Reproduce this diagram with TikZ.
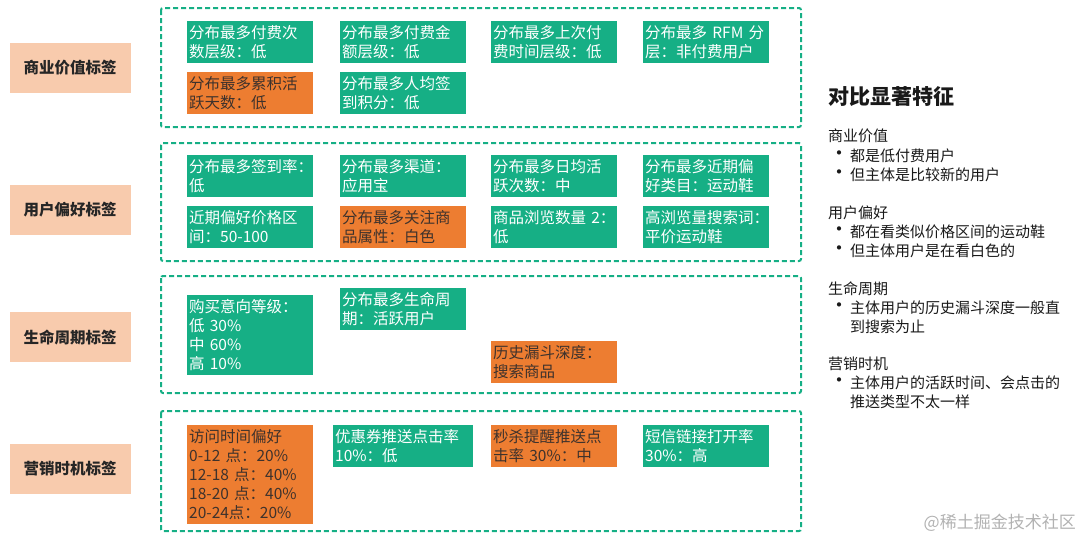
\documentclass[tikz,border=0pt]{standalone}
\usepackage{fontspec}
\setmainfont{Noto Sans CJK SC}
\usetikzlibrary{positioning}
\definecolor{tagpeach}{RGB}{248,203,173}
\definecolor{tealgrn}{RGB}{22,175,133}
\definecolor{deeporg}{RGB}{237,125,49}
\definecolor{orgtext}{RGB}{62,50,44}

\begin{document}
\begin{tikzpicture}[
    x=1pt, y=-1pt,
    every node/.style={inner sep=0pt},
    tagbox/.style={fill=tagpeach, minimum width=121pt, minimum height=50pt, font=\fontsize{15.5}{19}\selectfont\bfseries, text=black!85},
    grnbox/.style={anchor=north west, fill=tealgrn, text=white, text width=122pt, inner xsep=2pt, inner ysep=4.25pt, align=left, font=\fontsize{15.5}{19}\selectfont},
    orgbox/.style={grnbox, fill=deeporg, text=orgtext},
    group/.style={draw=tealgrn, line width=2pt, dash pattern=on 5pt off 3pt, rounded corners=2pt},
    title/.style={anchor=west, font=\fontsize{21}{25}\selectfont\bfseries, text=black!90},
    head/.style={anchor=west, font=\fontsize{15}{19}\selectfont, text=black!90},
    dot/.style={anchor=west, font=\fontsize{20}{19}\selectfont, text=black!90},
    para/.style={anchor=north west, align=left, font=\fontsize{15}{19}\selectfont, text=black!90}
]
\useasboundingbox (0,0) rectangle (1080,541);

% Row labels
\node[tagbox] (biz_label)  at (70,68)  {商业价值标签};
\node[tagbox] (pref_label) at (70,210) {用户偏好标签};
\node[tagbox] (life_label) at (70,337) {生命周期标签};
\node[tagbox] (mkt_label)  at (70,469) {营销时机标签};

% Dashed groups
\draw[group] (161,8)   rectangle (801,127);
\draw[group] (161,143) rectangle (801,261);
\draw[group] (161,276) rectangle (801,393);
\draw[group] (161,411) rectangle (801,531);

% Business value
\node[grnbox] (biz_count)  at (187,21) {分布最多付费次\\数层级：低};
\node[grnbox] (biz_amount) at (340,21) {分布最多付费金\\额层级：低};
\node[grnbox] (biz_last)   at (491,21) {分布最多上次付\\费时间层级：低};
\node[grnbox] (biz_rfm)    at (643,21) {分布最多~RFM~分\\层：非付费用户};
\node[orgbox] (biz_days)   at (187,72) {分布最多累积活\\跃天数：低};
\node[grnbox] (biz_points) at (340,72) {分布最多人均签\\到积分：低};

% User preference
\node[grnbox] (pref_sign)    at (187,155) {分布最多签到率：\\低};
\node[grnbox] (pref_channel) at (340,155) {分布最多渠道：\\应用宝};
\node[grnbox] (pref_active)  at (491,155) {分布最多日均活\\跃次数：中};
\node[grnbox] (pref_cat)     at (643,155) {分布最多近期偏\\好类目：运动鞋};
\node[grnbox] (pref_price)   at (187,206) {近期偏好价格区\\间：50-100};
\node[orgbox] (pref_attr)    at (340,206) {分布最多关注商\\品属性：白色};
\node[grnbox] (pref_browse)  at (491,206) {商品浏览数量~2：\\低};
\node[grnbox] (pref_search)  at (643,206) {高浏览量搜索词：\\平价运动鞋};

% Life cycle
\node[grnbox] (life_intent) at (187,295) {购买意向等级：\\低 30\%\\中 60\%\\高 10\%};
\node[grnbox] (life_stage)  at (340,288) {分布最多生命周\\期：活跃用户};
\node[orgbox] (life_funnel) at (491,341) {历史漏斗深度：\\搜索商品};

% Marketing timing
\node[orgbox] (mkt_visit) at (187,425) {访问时间偏好\\0-12 点：20\%\\12-18 点：40\%\\18-20 点：40\%\\20-24点：20\%};
\node[grnbox, text width=136pt] (mkt_coupon) at (333,425) {优惠券推送点击率\\10\%：低};
\node[orgbox] (mkt_flash) at (491,425) {秒杀提醒推送点\\击率 30\%：中};
\node[grnbox] (mkt_sms)   at (643,425) {短信链接打开率\\30\%：高};

% Summary panel
\node[title] (cmp_title) at (828,97) {对比显著特征};

\node[head] (biz_head)  at (828,136) {商业价值};
\node[dot]  (biz_dot1)  at (829,156) {•};
\node[head] (biz_item1) at (850,156) {都是低付费用户};
\node[dot]  (biz_dot2)  at (829,175) {•};
\node[head] (biz_item2) at (850,175) {但主体是比较新的用户};

\node[head] (pref_head)  at (828,213) {用户偏好};
\node[dot]  (pref_dot1)  at (829,232) {•};
\node[head] (pref_item1) at (850,232) {都在看类似价格区间的运动鞋};
\node[dot]  (pref_dot2)  at (829,251) {•};
\node[head] (pref_item2) at (850,251) {但主体用户是在看白色的};

\node[head] (life_head)  at (828,289) {生命周期};
\node[dot]  (life_dot1)  at (829,308) {•};
\node[para] (life_item1) at (850,300.5) {主体用户的历史漏斗深度一般直\\到搜索为止};

\node[head] (mkt_head)  at (828,364) {营销时机};
\node[dot]  (mkt_dot1)  at (829,383) {•};
\node[para] (mkt_item1) at (850,375.5) {主体用户的活跃时间、会点击的\\推送类型不太一样};

% Watermark
\node[anchor=east, font=\fontsize{17}{20}\selectfont, text=black!30] (wmark) at (1076,523) {@稀土掘金技术社区};

\end{tikzpicture}
\end{document}
